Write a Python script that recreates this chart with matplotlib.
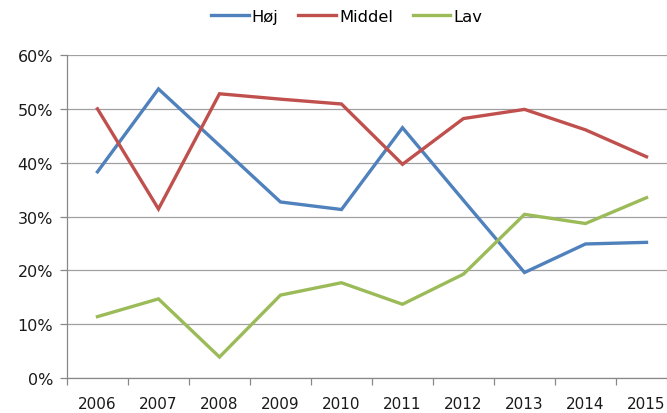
import matplotlib
matplotlib.use("Agg")
import matplotlib.pyplot as plt
import numpy as np
from matplotlib.ticker import FuncFormatter, MultipleLocator

plt.rcParams.update({
    "font.family": "DejaVu Sans",
    "font.size": 11,
})

years = ["2006", "2007", "2008", "2009", "2010", "2011", "2012", "2013", "2014", "2015"]
hoj = [38.3, 53.7, 43.2, 32.7, 31.3, 46.5, 33.0, 19.6, 24.9, 25.2]
middel = [50.0, 31.4, 52.8, 51.8, 50.9, 39.7, 48.2, 49.9, 46.1, 41.1]
lav = [11.4, 14.7, 3.9, 15.4, 17.7, 13.7, 19.3, 30.4, 28.7, 33.5]

series = [("Høj", hoj, "#4F81BD"), ("Middel", middel, "#C0504D"), ("Lav", lav, "#9BBB59")]


def main():
    fig = plt.figure(figsize=(6.67, 4.14), dpi=100)
    # plot area runs past the right edge of the image, as in the original
    ax = fig.add_axes([0.1004, 0.0845, 0.9146, 0.7802])

    x = np.arange(len(years))
    for name, vals, col in series:
        ax.plot(x, vals, color=col, linewidth=2.4, label=name,
                solid_joinstyle="miter", zorder=3)

    ax.set_xlim(-0.5, len(years) - 0.5)
    ax.set_ylim(0, 60)
    ax.yaxis.set_major_locator(MultipleLocator(10))
    ax.yaxis.set_major_formatter(FuncFormatter(lambda v, _: f"{v:.0f}%"))
    ax.grid(axis="y", color="#A0A0A0", linewidth=0.9, zorder=0)

    ax.set_xticks(x)
    ax.set_xticklabels(years)
    ax.set_xticks(np.arange(-0.5, len(years)), minor=True)
    ax.tick_params(axis="x", which="major", length=0, pad=13)
    ax.tick_params(axis="x", which="minor", length=5, color="#888888", width=0.9)
    ax.tick_params(axis="y", length=5, color="#888888", width=0.9, pad=5)
    ax.tick_params(axis="x", labelsize=11, labelcolor="#1a1a1a")
    ax.tick_params(axis="y", labelsize=11.5, labelcolor="#1a1a1a")

    for side in ("top", "right"):
        ax.spines[side].set_visible(False)
    for side in ("left", "bottom"):
        ax.spines[side].set_color("#888888")
        ax.spines[side].set_linewidth(0.9)

    fig.legend(loc="center", bbox_to_anchor=(0.52, 0.958), ncol=3,
               frameon=False, handlelength=2.3, handletextpad=0.2,
               columnspacing=1.2, fontsize=11.8)

    fig.savefig("out.png", dpi=100)
    plt.close(fig)


if __name__ == "__main__":
    main()
